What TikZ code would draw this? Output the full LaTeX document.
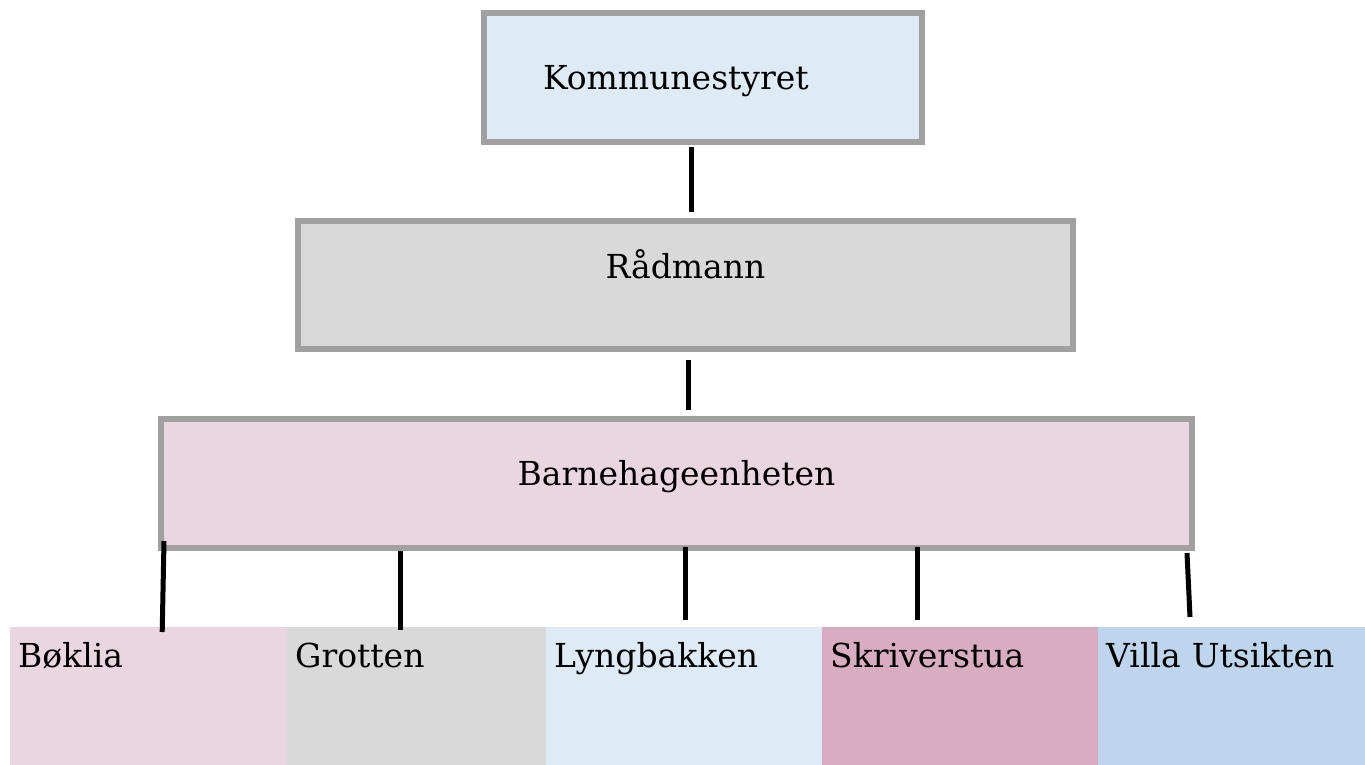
\documentclass[tikz,border=0pt]{standalone}
\usepackage{fontspec}
\setmainfont{DejaVu Serif}
\definecolor{rimgray}{HTML}{A0A0A0}
\definecolor{paleblue}{HTML}{DEEAF6}
\definecolor{palegray}{HTML}{D9D9D9}
\definecolor{palepink}{HTML}{EAD6E1}
\definecolor{rosepink}{HTML}{D8ADC1}
\definecolor{skyblue}{HTML}{BFD5ED}

\begin{document}
\begin{tikzpicture}[x=1pt, y=-1pt, line cap=butt,
	unit/.style={draw=rimgray, line width=6pt, inner sep=0pt, font=\fontsize{33}{40}\selectfont},
	kinder/.style={anchor=north west, inner xsep=8pt, inner ysep=0pt, align=left,
		text height=40pt, text depth=98pt, font=\fontsize{33}{40}\selectfont},
	link/.style={line width=5pt, black}]
	\useasboundingbox (0,0) rectangle (1365,765);
	% top of the chart
	\node[unit, fill=paleblue, inner xsep=59pt, text width=320pt, align=left,
		text height=77pt, text depth=52pt] (kommune) at (703,77.5) {Kommunestyret};
	\node[unit, fill=palegray, text width=775pt, align=center,
		text height=57pt, text depth=71pt] (raad) at (685.5,285) {Rådmann};
	\node[unit, fill=palepink, text width=1031pt, align=center,
		text height=66pt, text depth=63pt] (barn) at (676.5,483.5) {Barnehageenheten};
	% the five kindergartens
	\node[kinder, fill=palepink, text width=261pt] (boklia) at (10,627) {Bøklia};
	\node[kinder, fill=palegray, text width=243pt] (grotten) at (287,627) {Grotten};
	\node[kinder, fill=paleblue, text width=260pt] (lyng) at (546,627) {Lyngbakken};
	\node[kinder, fill=rosepink, text width=260pt] (skriv) at (822,627) {Skriverstua};
	\node[kinder, fill=skyblue, text width=251pt] (villa) at (1098,627) {Villa Utsikten};
	% connectors
	\draw[link] ([shift={(-12,2)}]kommune.south) -- ([shift={(5.5,-6)}]raad.north);
	\draw[link] ([shift={(2.5,8)}]raad.south) -- ([shift={(11.5,-6)}]barn.north);
	\draw[link] ([shift={(6,-10)}]barn.south west) -- ([shift={(13.5,5)}]boklia.north);
	\draw[link] ([shift={(242,0)}]barn.south west) -- ([shift={(113,3)}]grotten.north west);
	\draw[link] ([shift={(8.5,-4)}]barn.south) -- ([shift={(139,-7)}]lyng.north west);
	\draw[link] ([shift={(240.5,-4)}]barn.south) -- ([shift={(95,-7)}]skriv.north west);
	\draw[link] ([shift={(-8,2)}]barn.south east) -- ([shift={(92,-10)}]villa.north west);
\end{tikzpicture}
\end{document}
